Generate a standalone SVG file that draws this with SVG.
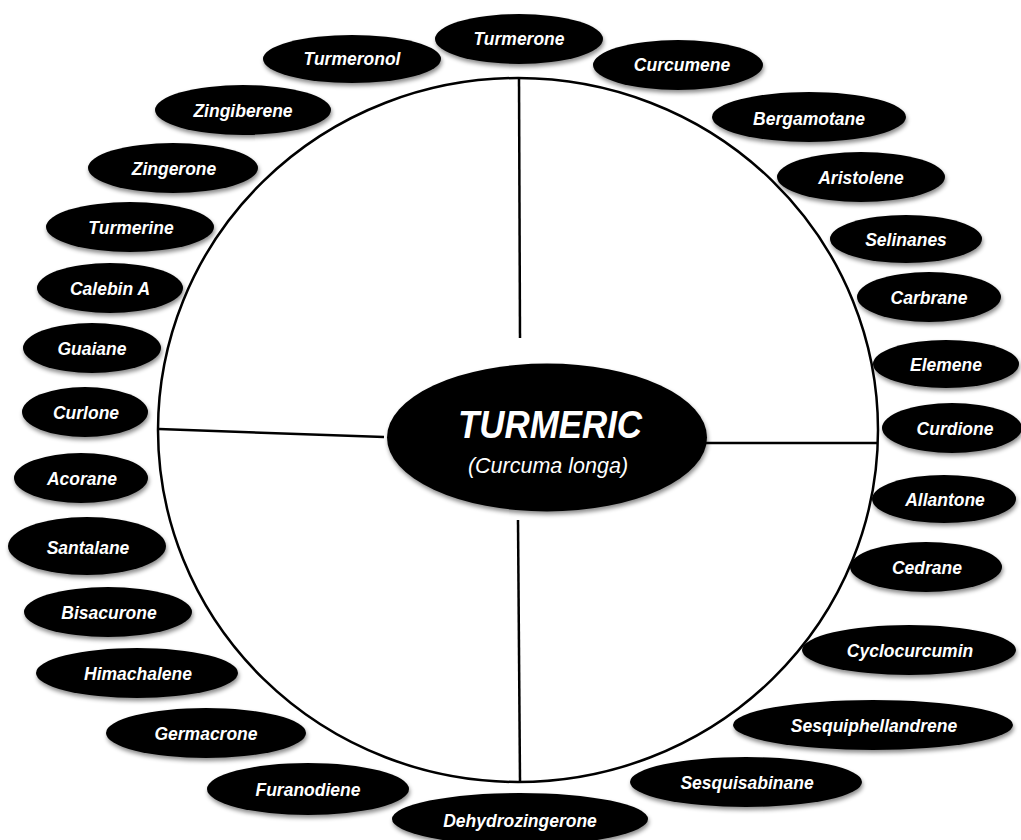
<svg xmlns="http://www.w3.org/2000/svg" width="1021" height="840" viewBox="0 0 1021 840">
<defs>
<filter id="sh" x="-20%" y="-30%" width="140%" height="170%">
<feDropShadow dx="1" dy="3" stdDeviation="2" flood-color="#000" flood-opacity="0.45"/>
</filter>
</defs>
<style>
.n ellipse{fill:#000;filter:url(#sh)}
.n text{fill:#fff;font-family:"Liberation Sans",Arial,sans-serif;font-weight:bold;font-style:italic;font-size:17.5px;text-anchor:middle}
.c{stroke:#000;stroke-width:2.5;fill:none}
</style>
<rect width="1021" height="840" fill="#fff"/>
<g id="connectors">
<ellipse class="c" cx="518" cy="430" rx="360" ry="352"/>
<line class="c" x1="519" y1="78" x2="520" y2="338"/>
<line class="c" x1="518" y1="520" x2="520" y2="781"/>
<line class="c" x1="159" y1="429" x2="384" y2="437"/>
<line class="c" x1="706" y1="443" x2="878" y2="443"/>
</g>
<g id="center" class="n">
<ellipse cx="547" cy="437.5" rx="160" ry="74"/>
<text x="550" y="438" style="font-size:38px" textLength="184" lengthAdjust="spacingAndGlyphs">TURMERIC</text>
<text x="548" y="473" style="font-size:21.5px;font-weight:normal">(Curcuma longa)</text>
</g>
<g id="turmerone" class="n"><ellipse cx="519" cy="39" rx="84" ry="25"/><text x="519" y="45">Turmerone</text></g>
<g id="turmeronol" class="n"><ellipse cx="352" cy="59" rx="89" ry="24"/><text x="352" y="65">Turmeronol</text></g>
<g id="curcumene" class="n"><ellipse cx="678" cy="65" rx="85" ry="25"/><text x="682" y="71">Curcumene</text></g>
<g id="bergamotane" class="n"><ellipse cx="809" cy="117" rx="97" ry="25"/><text x="809" y="125">Bergamotane</text></g>
<g id="aristolene" class="n"><ellipse cx="861" cy="177" rx="84" ry="25"/><text x="861" y="184">Aristolene</text></g>
<g id="selinanes" class="n"><ellipse cx="906" cy="239" rx="76" ry="24"/><text x="906" y="246">Selinanes</text></g>
<g id="carbrane" class="n"><ellipse cx="929" cy="297" rx="72" ry="25"/><text x="929" y="304">Carbrane</text></g>
<g id="elemene" class="n"><ellipse cx="946" cy="364" rx="73" ry="24"/><text x="946" y="371">Elemene</text></g>
<g id="curdione" class="n"><ellipse cx="952" cy="428" rx="70" ry="25"/><text x="955" y="435">Curdione</text></g>
<g id="allantone" class="n"><ellipse cx="944" cy="499" rx="72" ry="24"/><text x="945" y="506">Allantone</text></g>
<g id="cedrane" class="n"><ellipse cx="926" cy="567" rx="76" ry="25"/><text x="927" y="574">Cedrane</text></g>
<g id="cyclocurcumin" class="n"><ellipse cx="909" cy="650" rx="107" ry="25"/><text x="910" y="657">Cyclocurcumin</text></g>
<g id="sesquiphellandrene" class="n"><ellipse cx="873" cy="725" rx="140" ry="25"/><text x="874" y="732">Sesquiphellandrene</text></g>
<g id="sesquisabinane" class="n"><ellipse cx="746" cy="782" rx="116" ry="25"/><text x="747" y="789">Sesquisabinane</text></g>
<g id="dehydrozingerone" class="n"><ellipse cx="520" cy="819" rx="128" ry="26"/><text x="520" y="827">Dehydrozingerone</text></g>
<g id="furanodiene" class="n"><ellipse cx="308" cy="789" rx="101" ry="26"/><text x="308" y="796">Furanodiene</text></g>
<g id="germacrone" class="n"><ellipse cx="206" cy="733" rx="100" ry="25"/><text x="206" y="740">Germacrone</text></g>
<g id="himachalene" class="n"><ellipse cx="137" cy="673" rx="101" ry="25"/><text x="138" y="680">Himachalene</text></g>
<g id="bisacurone" class="n"><ellipse cx="108" cy="612" rx="84" ry="25"/><text x="109" y="619">Bisacurone</text></g>
<g id="santalane" class="n"><ellipse cx="87" cy="546" rx="79" ry="29"/><text x="88" y="554">Santalane</text></g>
<g id="acorane" class="n"><ellipse cx="81" cy="478" rx="67" ry="25"/><text x="82" y="485">Acorane</text></g>
<g id="curlone" class="n"><ellipse cx="85" cy="412" rx="63" ry="25"/><text x="86" y="419">Curlone</text></g>
<g id="guaiane" class="n"><ellipse cx="92" cy="348" rx="69" ry="25"/><text x="92" y="355">Guaiane</text></g>
<g id="calebin" class="n"><ellipse cx="110" cy="288" rx="73" ry="25"/><text x="110" y="295">Calebin A</text></g>
<g id="turmerine" class="n"><ellipse cx="130" cy="227" rx="84" ry="25"/><text x="131" y="234">Turmerine</text></g>
<g id="zingerone" class="n"><ellipse cx="173" cy="168" rx="85" ry="25"/><text x="174" y="175">Zingerone</text></g>
<g id="zingiberene" class="n"><ellipse cx="243" cy="110" rx="88" ry="25"/><text x="243" y="117">Zingiberene</text></g>
</svg>
